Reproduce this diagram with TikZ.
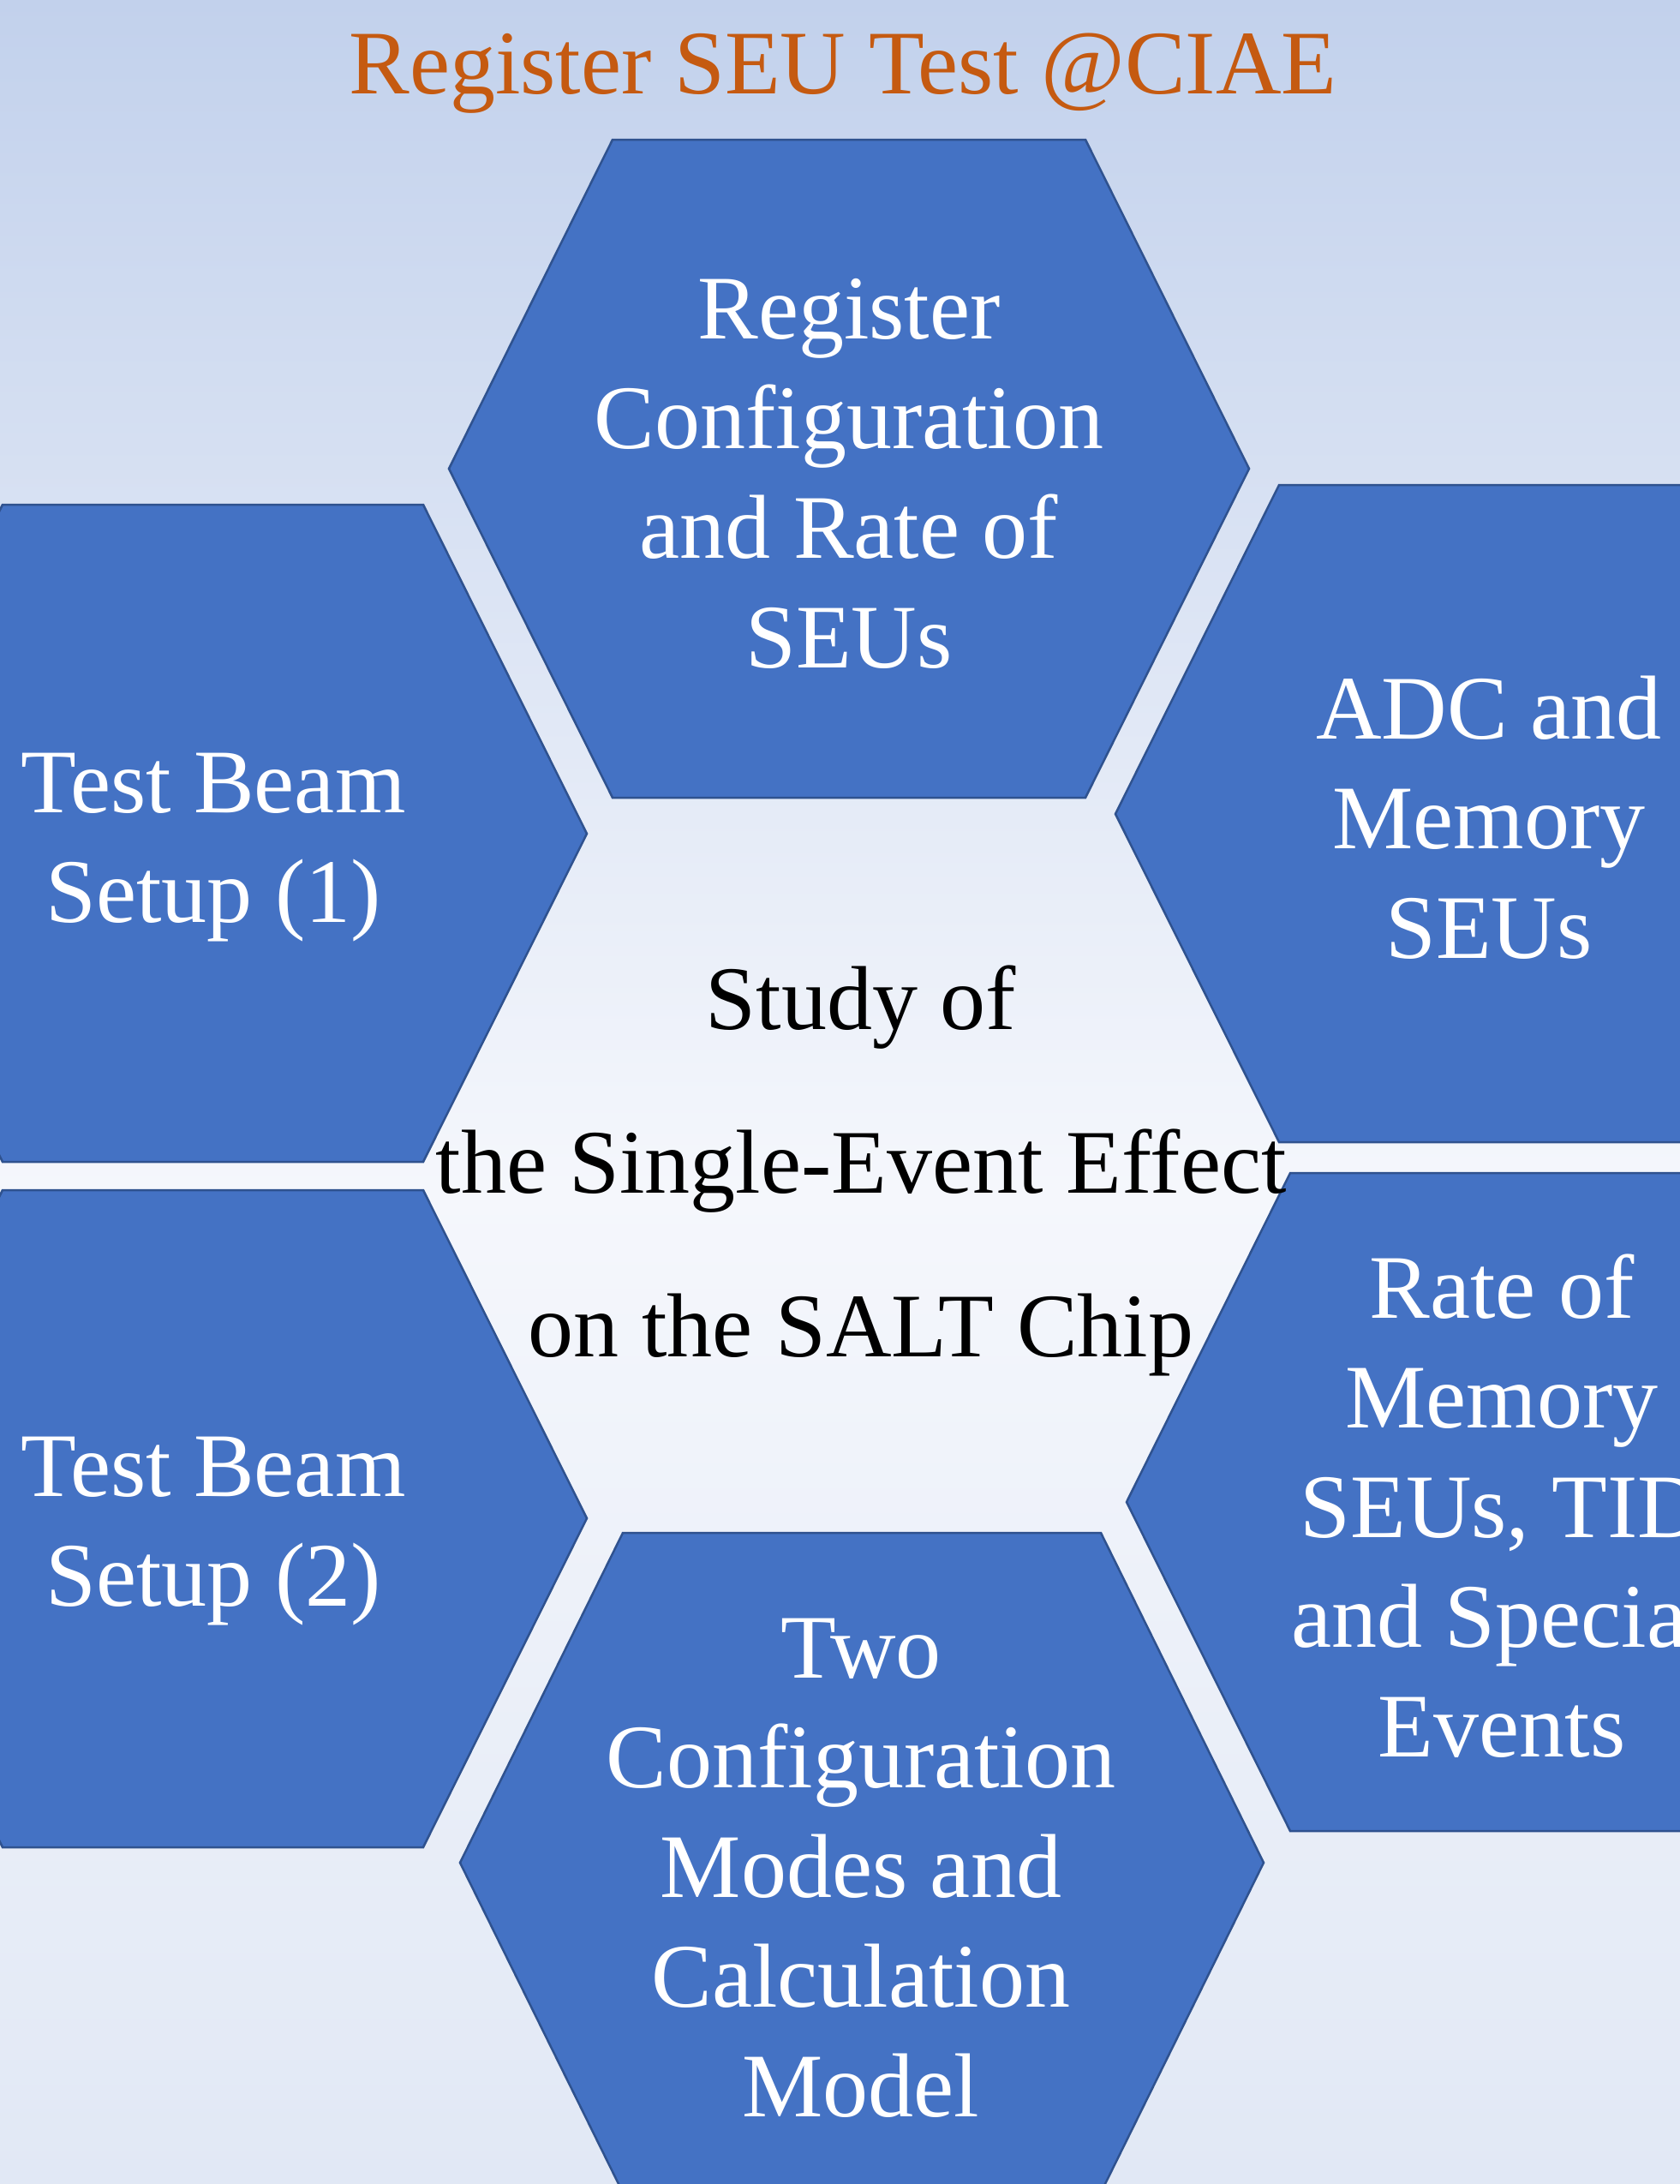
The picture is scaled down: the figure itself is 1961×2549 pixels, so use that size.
\documentclass[tikz,border=0pt]{standalone}
\usepackage{fontspec}
\setmainfont{Liberation Serif}
\definecolor{bgtop}{HTML}{C2D1EC}
\definecolor{bgmid}{HTML}{F5F7FC}
\definecolor{bgbot}{HTML}{E1E8F5}
\definecolor{hexfill}{HTML}{4472C4}
\definecolor{hexline}{HTML}{2F528F}
\definecolor{titleorange}{HTML}{C55A11}
\tikzset{
  hexagon/.style={fill=hexfill,draw=hexline,line width=2.5pt,line join=miter},
  hextext/.style={align=center,text=white,inner sep=0pt,font=\fontsize{106}{128}\selectfont},
  centertext/.style={align=center,text=black,inner sep=0pt,font=\fontsize{106}{191}\selectfont},
  titletext/.style={text=titleorange,inner sep=0pt,font=\fontsize{106}{128}\selectfont}
}
\begin{document}
\begin{tikzpicture}[x=1pt,y=-1pt]
\useasboundingbox (0,0) rectangle (1961,2549);
\clip (0,0) rectangle (1961,2549);
% background
\shade[top color=bgtop,bottom color=bgmid] (0,0) rectangle (1961,1390);
\shade[top color=bgmid,bottom color=bgbot] (0,1389) rectangle (1961,2549);
% hexagons
\draw[hexagon] (715,163) -- (1267,163) -- (1458,547) -- (1267,931) -- (715,931) -- (524,547) -- cycle;
\draw[hexagon] (3,589) -- (494,589) -- (685,973) -- (494,1356) -- (3,1356) -- (-188,973) -- cycle;
\draw[hexagon] (3,1389) -- (494,1389) -- (685,1772) -- (494,2156) -- (3,2156) -- (-188,1772) -- cycle;
\draw[hexagon] (1493,566) -- (1984,566) -- (2175,950) -- (1984,1333) -- (1493,1333) -- (1302,950) -- cycle;
\draw[hexagon] (1506,1369) -- (1997,1369) -- (2188,1753) -- (1997,2137) -- (1506,2137) -- (1315,1753) -- cycle;
\draw[hexagon] (727,1789) -- (1285,1789) -- (1475,2174) -- (1285,2559) -- (727,2559) -- (537,2174) -- cycle;
% title
\node[titletext,anchor=base] (title) at (984,109) {Register SEU Test @CIAE};
% texts
\node[hextext] (top) at (991,553) {Register\\Configuration\\and Rate of\\SEUs};
\node[hextext] (lefttop) at (249,989) {Test Beam\\Setup (1)};
\node[hextext] (leftbot) at (249,1787) {Test Beam\\Setup (2)};
\node[hextext] (righttop) at (1738,954) {ADC and\\Memory\\SEUs};
\node[hextext] (rightbot) at (1753,1758) {Rate of\\Memory\\SEUs, TID\\and Special\\Events};
\node[hextext] (bottom) at (1005,2180) {Two\\Configuration\\Modes and\\Calculation\\Model};
\node[centertext] (center) at (1005,1366) {Study of\\the Single-Event Effect\\on the SALT Chip};
\end{tikzpicture}
\end{document}
